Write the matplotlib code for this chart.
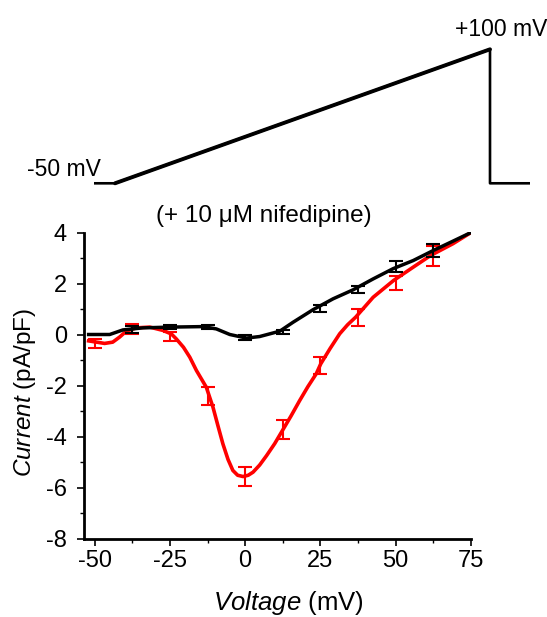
import matplotlib.pyplot as plt
from matplotlib.ticker import MultipleLocator

plt.rcParams['font.family'] = ['Liberation Sans', 'DejaVu Sans']
plt.rcParams['mathtext.fontset'] = 'custom'
plt.rcParams['mathtext.rm'] = 'Liberation Sans'
plt.rcParams['mathtext.it'] = 'Liberation Sans:italic'
plt.rcParams['axes.unicode_minus'] = False

# voltage ramp protocol (top panel)
prot_t = [0, 21, 396, 396, 436]
prot_v = [-50, -50, 100, -50, -50]

# continuous I-V traces
black_v = [-52, -45, -40.6, -34, -25, -14, -9.6, -5.1, 0.4, 4.8, 11.5, 15.9,
           22.5, 29.2, 35.8, 42.5, 49.1, 55.8, 62.4, 69, 75]
black_i = [0.0, 0.0, 0.18, 0.26, 0.29, 0.31, 0.22, 0.0, -0.14, -0.08, 0.13, 0.48,
           0.97, 1.4, 1.75, 2.18, 2.58, 2.9, 3.29, 3.66, 4.0]

red_v = [-52, -46.7, -44, -41.7, -39.5, -36.2, -31.7, -27.3, -24.5, -22.9, -20.5,
         -18.4, -16.2, -14.5, -12.9, -10.7, -9, -7.4, -5.7, -4.1, -2.5, -0.7, 1,
         2.6, 4.8, 7.1, 9.8, 12.4, 15.2, 18.1, 20.8, 23.6, 25.1, 28.2, 31.4, 34,
         36.7, 42.5, 49.3, 55.8, 61.6, 69, 75]
red_i = [-0.25, -0.35, -0.3, -0.1, 0.13, 0.26, 0.29, 0.16, 0.02, -0.17, -0.5,
         -0.89, -1.41, -1.75, -2.07, -2.85, -3.6, -4.29, -4.9, -5.33, -5.52, -5.57,
         -5.52, -5.4, -5.12, -4.75, -4.28, -3.76, -3.2, -2.59, -2.05, -1.54, -1.15,
         -0.55, 0.03, 0.38, 0.68, 1.46, 2.12, 2.64, 3.1, 3.56, 4.0]

# mean +/- error at 12.5 mV steps
bar_v_black = [-37.5, -25, -12.5, 0, 12.5, 25, 37.5, 50, 62.5]
bar_i_black = [0.2, 0.3, 0.3, -0.1, 0.1, 1.03, 1.77, 2.67, 3.3]
err_black = [0.15, 0.08, 0.07, 0.1, 0.08, 0.13, 0.15, 0.23, 0.26]

bar_v_red = [-50, -37.5, -25, -12.5, 0, 12.5, 25, 37.5, 50, 62.5]
bar_i_red = [-0.35, 0.22, -0.08, -2.4, -5.58, -3.73, -1.2, 0.68, 2.03, 3.08]
err_red = [0.18, 0.2, 0.17, 0.35, 0.38, 0.36, 0.33, 0.33, 0.28, 0.41]

W, H = 547, 617
fig = plt.figure(figsize=(W / 100, H / 100), dpi=100)

# protocol panel
axp = fig.add_axes([94 / W, 1 - 183.3 / H, (530 - 94) / W, (183.3 - 49.3) / H])
axp.plot(prot_t, prot_v, color='k', lw=1.9, clip_on=False, solid_capstyle='butt')
axp.plot(prot_t[1:3], prot_v[1:3], color='k', lw=2.8, clip_on=False, solid_capstyle='round')
axp.set_xlim(0, 436)
axp.set_ylim(-50, 100)
axp.axis('off')
fig.text(101 / W, 1 - 176 / H, '-50 mV', ha='right', va='baseline', fontsize=16.5)
fig.text(547 / W, 1 - 36 / H, '+100 mV', ha='right', va='baseline', fontsize=16.5)
fig.text(264 / W, 1 - 216 / H, '(+ 10 \u03bcM nifedipine)', ha='center', va='center', fontsize=17.5)

# I-V panel
ax = fig.add_axes([83.5 / W, 1 - 538.5 / H, (471 - 83.5) / W, (538.5 - 232.5) / H])
ax.plot(black_v, black_i, color='k', lw=2.5, zorder=3)
ax.errorbar(bar_v_black, bar_i_black, yerr=err_black, fmt='none', ecolor='k',
            elinewidth=1.5, capsize=4.7, capthick=1.5, zorder=4)
ax.plot(red_v, red_i, color='#ff0000', lw=2.6, zorder=2)
ax.errorbar(bar_v_red, bar_i_red, yerr=err_red, fmt='none', ecolor='#ff0000',
            elinewidth=1.5, capsize=4.7, capthick=1.5, zorder=2)

ax.set_xlim(-53.7, 75)
ax.set_ylim(-8, 4)
ax.set_xticks([-50, -25, 0, 25, 50, 75])
ax.set_yticks([-8, -6, -4, -2, 0, 2, 4])
ax.xaxis.set_minor_locator(MultipleLocator(12.5))
ax.yaxis.set_minor_locator(MultipleLocator(1))
for s in ['top', 'right']:
    ax.spines[s].set_visible(False)
for s in ['left', 'bottom']:
    ax.spines[s].set_linewidth(2.0)
ax.tick_params(which='major', direction='out', length=5, width=1.2, labelsize=17)
ax.tick_params(axis='x', which='major', pad=3)
ax.tick_params(axis='y', which='major', pad=7)
ax.tick_params(which='minor', direction='out', length=3, width=1.0)

fig.text(288 / W, 1 - 603 / H, '$\\it{Voltage}$ (mV)', ha='center', va='center', fontsize=18.5)
fig.text(25.5 / W, 1 - 393 / H, '$\\it{Current}$ (pA/pF)', ha='center', va='center',
         rotation=90, fontsize=17.5)

fig.savefig('out.png', dpi=100)
